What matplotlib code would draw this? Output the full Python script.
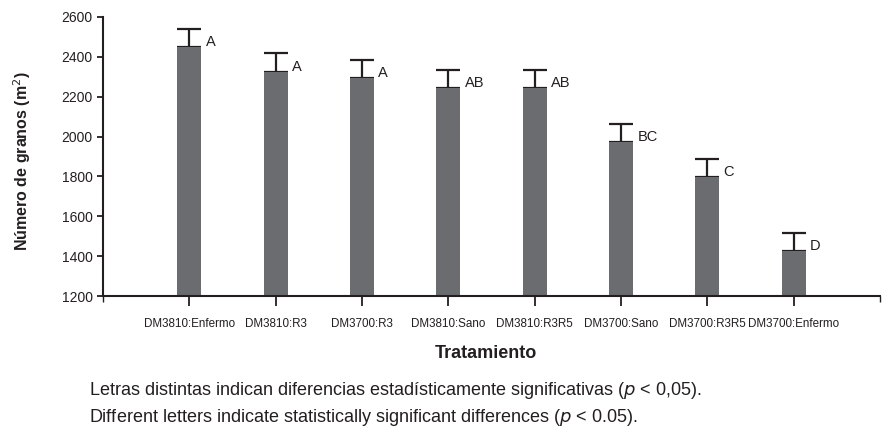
import numpy as np
import matplotlib.pyplot as plt

plt.rcParams['font.family'] = ['Liberation Sans', 'DejaVu Sans']

tratamientos = ['DM3810:Enfermo', 'DM3810:R3', 'DM3700:R3', 'DM3810:Sano',
                'DM3810:R3R5', 'DM3700:Sano', 'DM3700:R3R5', 'DM3700:Enfermo']
granos = [2450, 2325, 2293, 2243, 2243, 1973, 1797, 1425]
error = [91, 92, 92, 92, 92, 90, 90, 92]
letras = ['A', 'A', 'A', 'AB', 'AB', 'BC', 'C', 'D']

txt = '#231f20'

fig = plt.figure(figsize=(8.94, 4.29), dpi=100)
ax = fig.add_axes([103 / 894, 1 - 296 / 429, 777 / 894, 279 / 429])

x = np.arange(1, len(tratamientos) + 1)
ax.bar(x, granos, width=0.28, color='#6b6c70', zorder=2)
ax.errorbar(x, granos, yerr=[np.zeros(len(error)), error], fmt='none',
            ecolor=txt, elinewidth=1.6, capsize=8.6, capthick=1.6, zorder=1)

for xi, v, l in zip(x, granos, letras):
    ax.text(xi + 0.19, v + 4, l, ha='left', va='baseline', fontsize=10.5, color=txt)

ax.set_xlim(0, 9)
ax.set_ylim(1200, 2600)
ax.set_yticks(range(1200, 2601, 200))
ax.set_xticks(x)
ax.set_xticklabels(tratamientos)
ax.set_xticks([0, 9], minor=True)
ax.tick_params(axis='x', which='major', length=7.5, width=1.3, labelsize=8.4, pad=8, colors=txt)
ax.tick_params(axis='x', which='minor', length=4.5, width=1.0, colors=txt)
ax.tick_params(axis='y', length=4.5, width=1.3, labelsize=10, pad=3, colors=txt)

for s in ['top', 'right']:
    ax.spines[s].set_visible(False)
for s in ['left', 'bottom']:
    ax.spines[s].set_linewidth(1.5)
    ax.spines[s].set_color(txt)

fig.text(22 / 894, 1 - 161 / 429, 'Número de granos (m$^2$)', rotation=90,
         ha='center', va='center', fontsize=11.5, fontweight='bold', color=txt)
fig.text(486 / 894, 1 - 358 / 429, 'Tratamiento', ha='center', va='baseline',
         fontsize=13, fontweight='bold', color=txt)
fig.text(89 / 894, 1 - 395 / 429,
         'Letras distintas indican diferencias estadísticamente significativas ($\\it{p}$ < 0,05).',
         ha='left', va='baseline', fontsize=13, color=txt)
fig.text(89 / 894, 1 - 422 / 429,
         'Different letters indicate statistically significant differences ($\\it{p}$ < 0.05).',
         ha='left', va='baseline', fontsize=13, color=txt)

fig.savefig('out.png', dpi=100)
